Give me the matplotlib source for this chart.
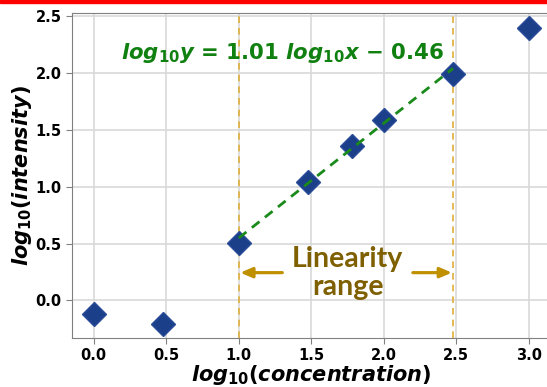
import numpy as np
import matplotlib
matplotlib.use("Agg")
import matplotlib.pyplot as plt
from matplotlib.patches import Rectangle

plt.rcParams['mathtext.fontset'] = 'custom'
plt.rcParams['mathtext.rm'] = 'DejaVu Sans:bold'
plt.rcParams['mathtext.it'] = 'DejaVu Sans:bold:italic'
plt.rcParams['mathtext.bf'] = 'DejaVu Sans:bold'

# data (log10 values)
log_conc = [0.0, 0.477, 1.0, 1.477, 1.778, 2.0, 2.477, 3.0]
log_int = [-0.12, -0.21, 0.51, 1.04, 1.36, 1.59, 1.99, 2.40]

# linear fit shown on the chart
slope = 1.01
intercept = -0.46
lin_lo, lin_hi = 1.0, 2.48

fig = plt.figure(figsize=(5.47, 3.87), dpi=100)
ax = fig.add_axes([0.1316, 0.1266, 0.875, 0.840])

ax.grid(True, color='#d9d9d9', linewidth=1.2, zorder=0)
ax.set_axisbelow(True)

ax.plot(log_conc, log_int, linestyle='none', marker='D', markersize=12,
        color='#1c3f8a', markeredgecolor='#2a4c99', zorder=3)

xf = np.array([lin_lo, log_conc[6]])
ax.plot(xf, slope * xf + intercept, color='#1a8a1a', linestyle='--',
        linewidth=2, dashes=(3.5, 2.5), zorder=4)

for xv in (lin_lo, lin_hi):
    ax.axvline(xv, color='#e0ae3a', linestyle='--', linewidth=1.2,
               dashes=(4, 3), zorder=2)

eq = r'$log_{10}y$ = %.2f $log_{10}x$ − %.2f' % (slope, -intercept)
ax.text(1.30, 2.175, eq, color='#108010', fontsize=15.3, fontweight='bold',
        ha='center', va='center')

ax.text(1.75, 0.245, 'Linearity\nrange', color='#7f6000', fontsize=20.5,
        fontfamily='Lato', fontweight='bold', ha='center', va='center',
        linespacing=1.1)

arrow_kw = dict(arrowstyle='-|>,head_length=0.7,head_width=0.3',
                color='#bf9000', lw=2.3, shrinkA=0, shrinkB=0)
ax.annotate('', xy=(lin_lo + 0.01, 0.245), xytext=(1.30, 0.245), arrowprops=arrow_kw)
ax.annotate('', xy=(lin_hi - 0.01, 0.245), xytext=(2.20, 0.245), arrowprops=arrow_kw)

ax.set_xlim(-0.15, 3.15)
ax.set_ylim(-0.33, 2.53)
ax.set_xticks([0.0, 0.5, 1.0, 1.5, 2.0, 2.5, 3.0])
ax.set_yticks([0.0, 0.5, 1.0, 1.5, 2.0, 2.5])
ax.set_xticklabels(['0.0', '0.5', '1.0', '1.5', '2.0', '2.5', '3.0'])
ax.set_yticklabels(['0.0', '0.5', '1.0', '1.5', '2.0', '2.5'])
for lab in ax.get_xticklabels() + ax.get_yticklabels():
    lab.set_fontweight('bold')
    lab.set_fontsize(10.5)
ax.tick_params(colors='#808080', labelcolor='black', length=4)
for sp in ax.spines.values():
    sp.set_color('#808080')

ax.set_xlabel(r'$log_{10}(concentration)$', fontsize=15, labelpad=0)
ax.set_ylabel(r'$log_{10}(intensity)$', fontsize=15, labelpad=1)

# red strip at the very top of the picture
fig.patches.append(Rectangle((0, 0.992), 1, 0.008, transform=fig.transFigure,
                             color='red', zorder=10))

fig.savefig('out.png', dpi=100)
